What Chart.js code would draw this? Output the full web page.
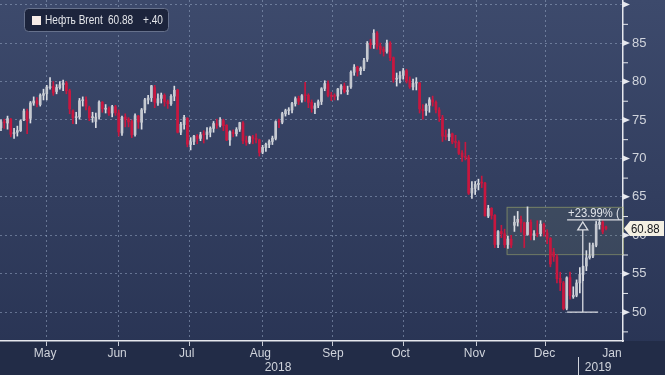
<!DOCTYPE html>
<html>
<head>
<meta charset="utf-8">
<script src="https://cdn.jsdelivr.net/npm/chart.js@4.4.1/dist/chart.umd.min.js"></script>
<style>
  html, body { margin: 0; padding: 0; background: #2c3757; }
  #wrap { width: 665px; height: 375px; position: relative; }
</style>
</head>
<body>
<div id="wrap"><canvas id="brentChart"></canvas></div>
<script>
// daily candles, Apr 26 2018 .. Jan 14 2019
var dates = [
  'Apr 26','Apr 27','Apr 30',
  'May 1','May 2','May 3','May 4','May 7','May 8','May 9','May 10','May 11','May 14','May 15','May 16','May 17','May 18','May 21','May 22','May 23','May 24','May 25','May 28','May 29','May 30','May 31',
  'Jun 1','Jun 4','Jun 5','Jun 6','Jun 7','Jun 8','Jun 11','Jun 12','Jun 13','Jun 14','Jun 15','Jun 18','Jun 19','Jun 20','Jun 21','Jun 22','Jun 25','Jun 26','Jun 27','Jun 28','Jun 29',
  'Jul 2','Jul 3','Jul 4','Jul 5','Jul 6','Jul 9','Jul 10','Jul 11','Jul 12','Jul 13','Jul 16','Jul 17','Jul 18','Jul 19','Jul 20','Jul 23','Jul 24','Jul 25','Jul 26','Jul 27','Jul 30','Jul 31',
  'Aug 1','Aug 2','Aug 3','Aug 6','Aug 7','Aug 8','Aug 9','Aug 10','Aug 13','Aug 14','Aug 15','Aug 16','Aug 17','Aug 20','Aug 21','Aug 22','Aug 23','Aug 24','Aug 27','Aug 28','Aug 29','Aug 30','Aug 31',
  'Sep 3','Sep 4','Sep 5','Sep 6','Sep 7','Sep 10','Sep 11','Sep 12','Sep 13','Sep 14','Sep 17','Sep 18','Sep 19','Sep 20','Sep 21','Sep 24','Sep 25','Sep 26','Sep 27','Sep 28',
  'Oct 1','Oct 2','Oct 3','Oct 4','Oct 5','Oct 8','Oct 9','Oct 10','Oct 11','Oct 12','Oct 15','Oct 16','Oct 17','Oct 18','Oct 19','Oct 22','Oct 23','Oct 24','Oct 25','Oct 26','Oct 29','Oct 30','Oct 31',
  'Nov 1','Nov 2','Nov 5','Nov 6','Nov 7','Nov 8','Nov 9','Nov 12','Nov 13','Nov 14','Nov 15','Nov 16','Nov 19','Nov 20','Nov 21','Nov 22','Nov 23','Nov 26','Nov 27','Nov 28','Nov 29','Nov 30',
  'Dec 3','Dec 4','Dec 5','Dec 6','Dec 7','Dec 10','Dec 11','Dec 12','Dec 13','Dec 14','Dec 17','Dec 18','Dec 19','Dec 20','Dec 21','Dec 24','Dec 26','Dec 27','Dec 28','Dec 31',
  'Jan 2','Jan 3','Jan 4','Jan 7','Jan 8','Jan 9','Jan 10','Jan 11','Jan 14'
];
var opens = [
  74.0,74.7,74.6,
  75.1,73.2,73.4,73.6,75.0,76.1,75.2,77.2,77.5,77.0,78.2,78.4,79.2,79.4,78.7,79.2,79.6,79.8,78.8,76.2,75.3,75.4,77.5,
  77.6,76.6,75.3,74.8,75.4,77.3,76.4,76.5,75.9,76.7,75.9,73.3,75.4,75.1,74.8,73.1,75.5,74.7,76.3,77.6,77.9,
  79.2,77.2,77.8,78.2,77.4,77.1,78.1,78.9,73.4,74.4,75.2,71.8,72.2,72.9,72.6,73.2,73.1,73.4,73.9,74.5,74.3,74.9,
  74.3,72.4,73.4,73.2,73.8,74.6,72.3,72.1,72.8,72.6,72.4,70.8,71.4,71.8,72.2,72.6,74.8,74.7,75.8,76.2,76.3,77.1,77.8,
  77.6,78.2,78.2,77.3,76.5,76.9,77.4,79.1,79.7,78.2,78.1,78.1,79.0,79.4,78.7,79.3,81.2,81.9,81.4,81.7,
  82.9,85.0,84.8,86.3,84.6,84.2,83.9,85.0,83.1,80.3,80.4,80.8,81.4,80.1,79.3,79.8,79.8,76.4,76.2,76.9,77.6,77.3,76.3,
  75.3,72.9,72.8,73.2,72.1,72.1,70.7,70.2,70.1,65.5,66.1,66.6,66.8,66.8,62.5,63.5,62.6,58.8,60.5,60.2,58.8,59.5,
  61.3,61.7,62.1,61.6,60.1,61.7,60.0,60.2,60.2,61.4,60.3,59.6,57.8,57.2,54.4,53.8,50.5,54.5,52.0,52.2,
  53.8,54.9,56.0,57.1,57.3,58.7,61.4,61.7,61.1
];
var highs = [
  75.0,75.1,75.5,
  75.2,73.9,74.2,75.0,76.4,76.4,77.4,78.0,77.9,78.4,79.0,79.5,80.5,80.0,79.6,80.0,80.2,80.0,79.0,76.3,76.0,77.8,78.0,
  78.0,76.8,76.0,75.9,77.5,77.4,77.0,76.7,76.9,76.9,76.3,75.5,75.8,75.3,75.0,75.8,75.6,76.5,77.8,78.2,79.5,
  79.5,78.4,78.5,78.4,77.6,78.3,79.4,79.0,74.7,75.6,75.3,72.7,73.0,73.1,73.4,73.6,74.0,74.1,74.8,75.1,75.3,75.1,
  74.4,73.6,73.7,74.0,74.7,74.8,72.9,72.9,73.0,73.2,72.5,71.7,72.0,72.4,72.9,74.9,75.1,76.0,76.4,76.6,77.3,78.0,78.1,
  78.3,79.9,78.4,77.6,77.2,77.6,79.2,80.1,80.1,78.6,78.4,79.1,79.6,79.8,79.4,81.4,82.2,82.0,81.9,83.0,
  85.2,85.5,86.74,86.5,85.0,84.5,85.4,85.2,83.2,81.1,81.3,81.7,81.6,80.6,80.3,80.5,79.9,77.0,77.1,77.9,78.1,77.5,76.6,
  75.6,73.7,73.8,73.3,73.0,72.3,71.0,72.1,70.4,67.0,67.0,67.3,67.7,66.9,63.9,63.6,62.7,60.6,61.3,60.8,59.9,60.0,
  62.5,63.1,62.5,61.7,63.7,62.0,60.6,61.9,61.9,61.6,60.7,59.7,58.3,57.5,55.2,54.0,54.6,55.2,53.3,54.2,
  55.8,56.0,58.0,59.0,59.0,61.8,62.1,61.9,61.2
];
var lows = [
  73.6,73.9,73.8,
  72.8,72.6,72.9,73.5,74.9,73.2,74.6,76.9,76.7,76.8,77.6,77.6,79.0,78.2,78.4,79.0,78.8,78.4,75.8,74.5,74.5,75.1,76.8,
  76.3,74.9,74.7,74.0,75.1,76.0,75.9,75.6,75.4,75.6,72.9,73.0,74.1,74.1,72.7,72.9,73.9,73.8,75.9,77.1,77.4,
  76.6,76.9,77.2,76.8,76.5,76.9,77.5,73.3,73.1,73.8,71.5,71.1,71.8,71.9,72.3,72.0,72.5,72.8,73.4,73.9,74.1,73.6,
  72.3,71.7,72.8,72.9,73.5,71.9,71.7,71.9,71.9,72.0,70.3,70.6,70.9,71.4,71.8,72.4,74.0,74.5,75.5,75.7,75.9,76.8,77.0,
  77.3,77.4,76.6,76.0,75.8,76.6,77.0,78.8,78.0,77.5,77.6,77.6,78.4,78.5,78.3,79.1,80.8,80.7,80.9,81.4,
  82.6,84.3,84.3,84.2,83.6,83.3,83.7,82.7,79.9,79.4,79.8,80.3,79.8,79.1,78.9,78.9,75.9,75.1,75.6,76.0,76.8,75.9,74.8,
  72.2,72.4,72.3,71.9,71.4,70.5,69.6,69.8,65.3,64.8,65.3,65.9,66.2,62.5,62.3,62.1,58.4,58.4,59.7,58.4,58.3,58.4,
  60.5,61.2,60.4,58.4,60.0,59.4,59.4,59.8,59.9,59.9,58.9,55.9,56.6,53.8,52.8,50.3,50.3,51.7,51.8,52.0,
  52.5,54.1,55.4,56.9,57.1,58.5,60.8,60.2,60.7
];
var closes = [
  74.74,74.64,75.17,
  73.13,73.36,73.62,74.87,76.17,74.85,77.21,77.47,77.12,78.23,78.43,79.28,79.30,78.51,79.22,79.57,79.80,78.79,76.44,75.30,75.39,77.50,77.59,
  76.79,75.29,75.38,75.36,77.32,76.46,76.46,75.88,76.74,75.94,73.44,75.34,75.08,74.74,73.05,75.55,74.73,76.31,77.62,77.85,79.44,
  77.30,77.76,78.24,77.39,77.11,78.07,78.86,73.40,74.45,75.33,71.84,72.16,72.90,72.58,73.07,73.06,73.44,73.93,74.54,74.29,74.97,74.25,
  72.39,73.45,73.21,73.75,74.65,72.28,72.07,72.81,72.61,72.46,70.76,71.43,71.83,72.21,72.63,74.78,74.73,75.82,76.21,76.31,77.14,77.77,77.42,
  78.15,78.17,77.27,76.50,76.83,77.37,79.06,79.74,78.18,78.09,78.05,79.03,79.40,78.70,78.80,81.20,81.87,81.34,81.72,82.72,
  84.98,84.80,86.29,84.58,84.16,83.91,85.00,83.09,80.26,80.43,80.78,81.41,80.05,79.29,79.78,79.83,76.44,76.17,76.89,77.62,77.34,76.31,75.47,
  72.89,72.83,73.17,72.13,72.07,70.65,70.18,70.12,65.47,66.12,66.62,66.76,66.79,62.53,63.48,62.60,58.80,60.48,60.21,58.76,59.51,58.71,
  61.69,62.08,61.56,60.06,61.67,59.97,60.20,60.15,61.45,60.28,59.61,56.26,57.24,54.35,53.82,50.47,54.47,52.16,52.20,53.80,
  54.91,55.95,57.06,57.33,58.72,61.44,61.68,60.48,60.88
];

// axis labels (positions in trading-day index units)
var monthNames   = ['May','Jun','Jul','Aug','Sep','Oct','Nov','Dec','Jan'];
var monthCenters = [13.5, 35.5, 56.8, 79.3, 101.5, 122.2, 144.8, 166.2, 186.8];
var monthBounds  = [2.5, 25.5, 46.5, 68.5, 91.5, 111.5, 134.5, 156.5, 176.5];
var yearNames    = ['2018', '2019'];
var yearCenters  = [84.7, 182.6];
var yTicks       = [50, 55, 60, 65, 70, 75, 80, 85, 90];

var lastPrice = 60.88;
var lastChange = '+.40';
var seriesName = 'Нефть Brent';
var moveLabel = '+23.99% (';

var upColor = '#c5c9d0';
var downColor = '#c8173f';
var gridColor = 'rgba(150,165,195,0.55)';
var textColor = '#d0d4dc';
var fontFamily = '"Liberation Sans", "DejaVu Sans", sans-serif';

var candleColors = closes.map(function(c, i) { return c >= opens[i] ? upColor : downColor; });
var wickColors = closes.map(function(c, i) { return c >= opens[i] ? '#dadde3' : downColor; });

// draw text squeezed horizontally to look like the condensed terminal font
function squeezeText(ctx, txt, x, y, sx) {
  ctx.save();
  ctx.translate(x, y);
  ctx.scale(sx, 1);
  ctx.fillText(txt, 0, 0);
  ctx.restore();
}

var bgPlugin = {
  id: 'bgPlugin',
  beforeDraw: function(chart) {
    var ctx = chart.ctx, a = chart.chartArea;
    var g = ctx.createLinearGradient(0, 0, 0, chart.height);
    g.addColorStop(0, '#3d4a6c');
    g.addColorStop(1, '#283353');
    ctx.save();
    ctx.fillStyle = g;
    ctx.fillRect(0, 0, chart.width, chart.height);
    ctx.fillStyle = '#222c47';
    ctx.fillRect(0, a.bottom, chart.width, chart.height - a.bottom);
    ctx.restore();
  }
};

var decorPlugin = {
  id: 'decorPlugin',
  beforeDatasetsDraw: function(chart) {
    var ctx = chart.ctx, a = chart.chartArea;
    var x = chart.scales.x, y = chart.scales.y;
    // range box
    var bx = x.getPixelForValue(154.6), by1 = y.getPixelForValue(63.7), by2 = y.getPixelForValue(57.55);
    ctx.save();
    ctx.fillStyle = 'rgba(125,145,105,0.16)';
    ctx.fillRect(bx, by1, a.right - bx, by2 - by1);
    ctx.strokeStyle = 'rgba(165,175,110,0.55)';
    ctx.lineWidth = 1;
    ctx.strokeRect(bx + 0.5, by1 + 0.5, a.right - bx, by2 - by1);
    ctx.restore();
  },
  afterDatasetsDraw: function(chart) {
    var ctx = chart.ctx, a = chart.chartArea;
    var x = chart.scales.x, y = chart.scales.y;
    ctx.save();
    ctx.beginPath();
    ctx.rect(a.left, a.top, a.right - a.left, a.bottom - a.top);
    ctx.clip();
    ctx.strokeStyle = '#d9dce2';
    ctx.lineWidth = 1.3;
    var lx = x.getPixelForValue(173.1);
    var topY = y.getPixelForValue(62.0);
    var lowY = y.getPixelForValue(50.0);
    ctx.beginPath();
    ctx.moveTo(lx, topY); ctx.lineTo(a.right, topY);
    ctx.moveTo(lx, lowY); ctx.lineTo(x.getPixelForValue(182.6), lowY);
    ctx.stroke();
    // arrow
    var ax = x.getPixelForValue(177.9);
    var apex = topY + 2;
    ctx.beginPath();
    ctx.moveTo(ax, lowY); ctx.lineTo(ax, apex + 8);
    ctx.moveTo(ax - 5, apex + 8); ctx.lineTo(ax, apex); ctx.lineTo(ax + 5, apex + 8); ctx.closePath();
    ctx.stroke();
    ctx.fillStyle = '#e1e4ea';
    ctx.font = '12.5px ' + fontFamily;
    ctx.textBaseline = 'middle';
    ctx.textAlign = 'left';
    squeezeText(ctx, moveLabel, lx + 1, topY - 6.5, 0.9);
    ctx.restore();

    // right axis tick marks
    ctx.save();
    ctx.fillStyle = '#e6e8ee';
    ctx.strokeStyle = '#e6e8ee';
    ctx.lineWidth = 1;
    yTicks.forEach(function(v) {
      var py = y.getPixelForValue(v);
      ctx.beginPath();
      ctx.moveTo(a.right, py - 3); ctx.lineTo(a.right + 7, py); ctx.lineTo(a.right, py + 3);
      ctx.closePath();
      ctx.fill();
      var pm = y.getPixelForValue(v - 2.5);
      if (pm < a.bottom) {
        ctx.beginPath();
        ctx.moveTo(a.right, pm + 0.5); ctx.lineTo(a.right + 5, pm + 0.5);
        ctx.stroke();
      }
    });
    // year separator
    var sx = Math.round(x.getPixelForValue(176.5)) + 0.5;
    ctx.strokeStyle = '#d0d4dc';
    ctx.beginPath();
    ctx.moveTo(sx, a.bottom + 16); ctx.lineTo(sx, chart.height);
    ctx.stroke();
    ctx.restore();
  },
  afterDraw: function(chart) {
    var ctx = chart.ctx, a = chart.chartArea, y = chart.scales.y;
    ctx.save();
    // legend box
    ctx.beginPath();
    ctx.roundRect(24.5, 8.5, 144, 23, 4);
    ctx.fillStyle = 'rgba(26,34,56,0.92)';
    ctx.fill();
    ctx.strokeStyle = '#66718c';
    ctx.lineWidth = 1;
    ctx.stroke();
    ctx.fillStyle = '#f6ece7';
    ctx.fillRect(32, 16, 9, 9);
    ctx.fillStyle = '#e4e6ea';
    ctx.font = '12px ' + fontFamily;
    ctx.textBaseline = 'middle';
    squeezeText(ctx, seriesName, 45, 21, 0.84);
    squeezeText(ctx, lastPrice.toFixed(2), 108, 21, 0.84);
    squeezeText(ctx, lastChange, 143, 21, 0.84);

    // last price tag
    var py = y.getPixelForValue(lastPrice);
    var tx = a.right + 1;
    ctx.beginPath();
    ctx.moveTo(tx, py);
    ctx.lineTo(tx + 6, py - 7.5);
    ctx.lineTo(664, py - 7.5);
    ctx.lineTo(664, py + 7.5);
    ctx.lineTo(tx + 6, py + 7.5);
    ctx.closePath();
    ctx.fillStyle = '#f4f0e3';
    ctx.fill();
    ctx.fillStyle = '#15171c';
    ctx.font = '13px ' + fontFamily;
    squeezeText(ctx, lastPrice.toFixed(2), tx + 7, py + 0.5, 0.88);
    ctx.restore();
  }
};

var tickValues = monthBounds.concat(monthCenters).concat(yearCenters);

function noEdgePadding(scale) {
  scale.paddingTop = 0;
  scale.paddingBottom = 0;
  scale.paddingLeft = 0;
  scale.paddingRight = 0;
}

var chart = new Chart(document.getElementById('brentChart'), {
  type: 'bar',
  data: {
    labels: dates,
    datasets: [
      {
        label: 'wick',
        data: dates.map(function(d, i) { return { x: i, y: [lows[i], highs[i]] }; }),
        backgroundColor: wickColors,
        barThickness: 1,
        grouped: false,
        order: 2
      },
      {
        label: 'body',
        data: dates.map(function(d, i) { return { x: i, y: [opens[i], closes[i]] }; }),
        backgroundColor: candleColors,
        barThickness: 2,
        minBarLength: 1,
        grouped: false,
        order: 1
      }
    ]
  },
  plugins: [bgPlugin, decorPlugin],
  options: {
    responsive: true,
    maintainAspectRatio: false,
    animation: false,
    layout: { padding: 0 },
    plugins: { legend: { display: false }, tooltip: { enabled: false } },
    scales: {
      x: {
        type: 'linear',
        min: -0.3,
        max: 190.2,
        offset: false,
        afterBuildTicks: function(scale) {
          scale.ticks = tickValues.map(function(v) { return { value: v }; });
        },
        afterFit: function(scale) { scale.height = 34; noEdgePadding(scale); },
        ticks: {
          autoSkip: false,
          maxRotation: 0,
          padding: 0,
          color: textColor,
          font: { family: fontFamily, size: 12 },
          callback: function(v) {
            var m = monthCenters.indexOf(v);
            if (m >= 0) return monthNames[m];
            var yi = yearCenters.indexOf(v);
            if (yi >= 0) return ['', yearNames[yi]];
            return '';
          }
        },
        grid: {
          color: function(c) { return c.tick && monthBounds.indexOf(c.tick.value) >= 0 ? gridColor : 'rgba(0,0,0,0)'; },
          tickColor: function(c) { return c.tick && monthBounds.indexOf(c.tick.value) >= 0 ? '#c8ccd6' : 'rgba(0,0,0,0)'; },
          tickLength: 5,
          lineWidth: 1
        },
        border: { display: true, color: '#e6e8ee', width: 1.5, dash: [2, 3] }
      },
      y: {
        position: 'right',
        min: 46.25,
        max: 90.6,
        afterBuildTicks: function(scale) {
          scale.ticks = yTicks.map(function(v) { return { value: v }; });
        },
        afterFit: function(scale) { scale.width = 42; noEdgePadding(scale); },
        ticks: {
          padding: 9,
          color: textColor,
          font: { family: fontFamily, size: 13 },
          callback: function(v) { return v < 88 ? String(v) : ''; }
        },
        grid: { color: gridColor, drawTicks: false, lineWidth: 1 },
        border: { display: true, color: '#e6e8ee', width: 1.5, dash: [2, 3] }
      }
    }
  }
});
</script>
</body>
</html>
